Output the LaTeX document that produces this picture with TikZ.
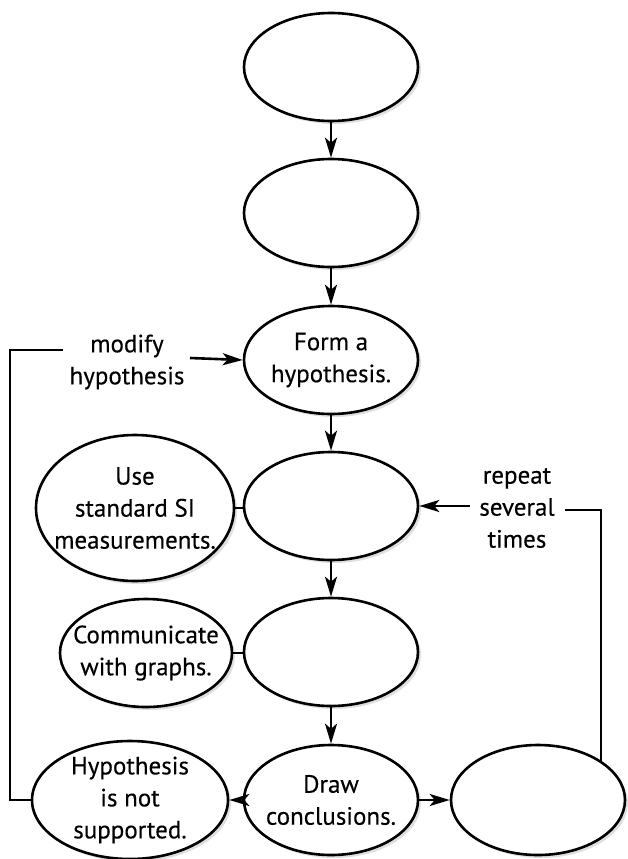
\documentclass[tikz,border=0pt]{standalone}
\usepackage{fontspec}
\setmainfont{PT Sans}[FakeBold=0.3]
\usetikzlibrary{arrows.meta, positioning, shapes.geometric, shadows}

\begin{document}
\begin{tikzpicture}[x=1pt, y=-1pt, ->, >={Stealth[length=20pt, width=12pt, inset=5pt]}, line width=2.6pt,
    font=\fontsize{25}{32}\selectfont]
    \tikzstyle{stage} = [draw, ellipse, fill=white, align=center, inner xsep=-40pt, inner ysep=-30pt,
        minimum width=174pt, minimum height=108pt,
        drop shadow={opacity=0.25, shadow xshift=3pt, shadow yshift=-3pt}]
    \tikzstyle{note} = [align=center, inner sep=0pt]
    \useasboundingbox (0,0) rectangle (628,859);
    % main column
    \node [stage] (top) at (331,67) {};
    \node [stage] (obs) at (331,213) {};
    \node [stage] (form) at (331,360) {Form a\\hypothesis.};
    \node [stage] (test) at (331,506) {};
    \node [stage] (data) at (331,652) {};
    \node [stage, minimum height=110pt] (concl) at (331,800) {Draw\\conclusions.};
    % side ellipses
    \node [stage, minimum width=198pt, minimum height=146pt] (usesi) at (135,508) {Use\\standard SI\\measurements.};
    \node [stage, minimum width=172pt, minimum height=108pt] (comm) at (146,653) {Communicate\\with graphs.};
    \node [stage, minimum width=196pt, minimum height=118pt] (notsup) at (130,800) {Hypothesis\\is not\\supported.};
    \node [stage, minimum height=110pt] (rpt) at (538,800) {};
    % loop labels
    \node [note] (modlbl) at (127,362) {modify\\hypothesis};
    \node [note] (rptlbl) at (517,508) {repeat\\several\\times};
    \coordinate (mcorner) at (10,350);
    \coordinate (mend) at (63,350);
    \coordinate (mstart) at (190,358);
    \coordinate (rend) at (565,510);
    \coordinate (rstart) at (470,506);

    \draw (top) -- (obs);
    \draw (obs) -- (form);
    \draw (form) -- (test);
    \draw (test) -- (data);
    \draw (data) -- (concl);
    \draw (concl) -- (notsup);
    \draw (concl) -- (rpt);
    \draw[-] (usesi.east) -- (usesi.east -| test.west);
    \draw[-] (comm.east) -- (comm.east -| data.west);
    \draw[-] (notsup.west) -| (mcorner) -- (mend);
    \draw (mstart) -- (form.west);
    \draw[-] (rpt.32) |- (rend);
    \draw (rstart) -- (test.east);
\end{tikzpicture}
\end{document}
